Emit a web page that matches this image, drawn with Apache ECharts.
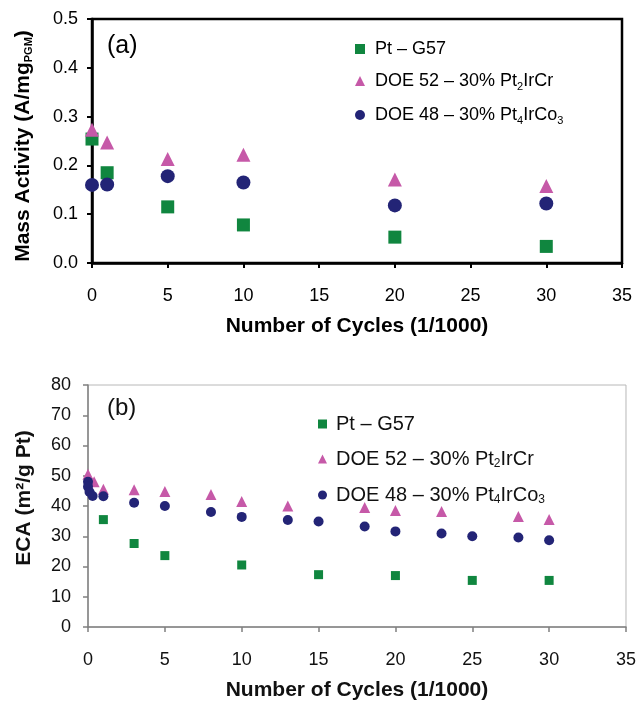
<!DOCTYPE html>
<html><head><meta charset="utf-8">
<script src="https://cdn.jsdelivr.net/npm/echarts@6/dist/echarts.min.js"></script>
<style>html,body{margin:0;padding:0;background:#fff}#c{width:639px;height:702px}</style>
</head><body><div id="c"></div>
<script>
// ---- Panel (a): Mass activity ----
const cyclesA = [0, 1, 5, 10, 20, 30];
const ptG57A = [0.254, 0.185, 0.115, 0.078, 0.053, 0.034];
const doe52A = [0.273, 0.247, 0.213, 0.222, 0.171, 0.158];
const doe48A = [0.160, 0.161, 0.178, 0.165, 0.118, 0.122];
const xTicksA = [0, 5, 10, 15, 20, 25, 30, 35];
const yTicksA = [0.0, 0.1, 0.2, 0.3, 0.4, 0.5];

// ---- Panel (b): ECA ----
const ptG57Bx = [1, 3, 5, 10, 15, 20, 25, 30];
const ptG57By = [35.5, 27.6, 23.6, 20.5, 17.3, 17.0, 15.4, 15.4];
const doe52Bx = [0, 0.4, 1, 3, 5, 8, 10, 13, 18, 20, 23, 28, 30];
const doe52By = [50.5, 48, 45.5, 45.4, 44.8, 43.8, 41.5, 40, 39.5, 38.5, 38.2, 36.5, 35.5];
const doe48Bx = [0, 0, 0.1, 0.3, 1, 3, 5, 8, 10, 13, 15, 18, 20, 23, 25, 28, 30];
const doe48By = [48, 46.4, 44.6, 43.3, 43.2, 41.1, 40, 38, 36.4, 35.4, 34.9, 33.2, 31.6, 30.9, 30, 29.6, 28.7];
const xTicksB = [0, 5, 10, 15, 20, 25, 30, 35];
const yTicksB = [0, 10, 20, 30, 40, 50, 60, 70, 80];

const names = ['Pt – G57', 'DOE 52 – 30% Pt2IrCr', 'DOE 48 – 30% Pt4IrCo3'];
const GREEN = '#10863f', PINK = '#c659a8', NAVY = '#232476';
const NARROW = '"Liberation Sans Narrow", "Liberation Sans", Arial, sans-serif';
const SANS = '"Liberation Sans", Arial, sans-serif';

function zip(xs, ys) { return xs.map((x, i) => [x, ys[i]]); }
function legendFmt(n) {
  if (n === names[1]) return '{n|DOE 52 – 30% Pt}{s|2}{n|IrCr}';
  if (n === names[2]) return '{n|DOE 48 – 30% Pt}{s|4}{n|IrCo}{s|3}';
  return '{n|' + n + '}';
}

const chart = echarts.init(document.getElementById('c'), null, {renderer: 'canvas'});
const option = {
  animation: false,
  backgroundColor: '#fff',
  grid: [
    {left: 92, top: 19, width: 530, height: 244, show: true, borderColor: '#000', borderWidth: 2.5, backgroundColor: 'transparent'},
    {left: 88, top: 385, width: 539, height: 243, show: true, borderColor: '#b8b8b8', borderWidth: 1, backgroundColor: 'transparent'}
  ],
  xAxis: [
    {gridIndex: 0, type: 'value', min: xTicksA[0], max: xTicksA[xTicksA.length - 1], interval: 5,
     axisLine: {onZero: false, lineStyle: {color: '#000', width: 2.5}},
     axisTick: {inside: false, length: 5, lineStyle: {color: '#000', width: 2}},
     axisLabel: {color: '#000', fontFamily: NARROW, fontSize: 18, margin: 24},
     splitLine: {show: false},
     name: 'Number of Cycles (1/1000)', nameLocation: 'middle', nameGap: 53,
     nameTextStyle: {color: '#000', fontFamily: SANS, fontWeight: 'bold', fontSize: 21}},
    {gridIndex: 1, type: 'value', min: xTicksB[0], max: xTicksB[xTicksB.length - 1], interval: 5,
     axisLine: {onZero: false, lineStyle: {color: '#808080', width: 1.5}},
     axisTick: {inside: false, length: 5, lineStyle: {color: '#808080', width: 1.5}},
     axisLabel: {color: '#111', fontFamily: SANS, fontSize: 18, margin: 24},
     splitLine: {show: false},
     name: 'Number of Cycles (1/1000)', nameLocation: 'middle', nameGap: 53,
     nameTextStyle: {color: '#111', fontFamily: SANS, fontWeight: 'bold', fontSize: 21}}
  ],
  yAxis: [
    {gridIndex: 0, type: 'value', min: yTicksA[0], max: yTicksA[yTicksA.length - 1], interval: 0.1,
     axisLine: {onZero: false, lineStyle: {color: '#000', width: 2.5}},
     axisTick: {inside: false, length: 5, lineStyle: {color: '#000', width: 2}},
     axisLabel: {color: '#000', fontFamily: NARROW, fontSize: 18, margin: 14, formatter: v => v.toFixed(1)},
     splitLine: {show: false},
     name: 'Mass Activity (A/mg{s|PGM})', nameLocation: 'middle', nameGap: 58, nameRotate: 90,
     nameTextStyle: {color: '#000', fontFamily: SANS, fontWeight: 'bold', fontSize: 21, padding: [0, 10, 0, 0],
       rich: {s: {fontFamily: SANS, fontWeight: 'bold', fontSize: 11, verticalAlign: 'bottom', color: '#000'}}}},
    {gridIndex: 1, type: 'value', min: yTicksB[0], max: yTicksB[yTicksB.length - 1], interval: 10,
     axisLine: {onZero: false, lineStyle: {color: '#808080', width: 1.5}},
     axisTick: {inside: false, length: 5, lineStyle: {color: '#808080', width: 1.5}},
     axisLabel: {color: '#111', fontFamily: SANS, fontSize: 18, margin: 17},
     splitLine: {show: false},
     name: 'ECA (m²/g Pt)', nameLocation: 'middle', nameGap: 53, nameRotate: 90,
     nameTextStyle: {color: '#111', fontFamily: SANS, fontWeight: 'bold', fontSize: 21, padding: [0, 0, 0, 16]}}
  ],
  legend: [
    {orient: 'vertical', left: 350, top: 35, itemWidth: 10, itemHeight: 10, itemGap: 14,
     data: [{name: names[0], icon: 'rect'}, {name: names[1], icon: 'triangle'}, {name: names[2], icon: 'circle'}],
     formatter: legendFmt, selectedMode: false,
     textStyle: {color: '#000', padding: [0, 0, 0, 5],
       rich: {n: {fontFamily: NARROW, fontSize: 18, lineHeight: 22, color: '#000'},
              s: {fontFamily: NARROW, fontSize: 11, lineHeight: 11, verticalAlign: 'bottom', color: '#000'}}}},
    {orient: 'vertical', left: 313, top: 409, itemWidth: 9, itemHeight: 9, itemGap: 15,
     data: [{name: names[0], icon: 'rect'}, {name: names[1], icon: 'triangle'}, {name: names[2], icon: 'circle'}],
     formatter: legendFmt, selectedMode: false,
     textStyle: {color: '#111', padding: [0, 0, 0, 4],
       rich: {n: {fontFamily: SANS, fontSize: 20, lineHeight: 22, color: '#111'},
              s: {fontFamily: SANS, fontSize: 12, lineHeight: 12, verticalAlign: 'bottom', color: '#111'}}}}
  ],
  graphic: [
    {type: 'text', left: 107, top: 34, style: {text: '(a)', font: '25px ' + NARROW, fill: '#000'}},
    {type: 'text', left: 107, top: 396, style: {text: '(b)', font: '24px ' + SANS, fill: '#111'}}
  ],
  series: [
    {name: names[0], type: 'scatter', xAxisIndex: 0, yAxisIndex: 0, symbol: 'rect', symbolSize: 13,
     itemStyle: {color: GREEN, opacity: 1}, data: zip(cyclesA, ptG57A)},
    {name: names[1], type: 'scatter', xAxisIndex: 0, yAxisIndex: 0, symbol: 'triangle', symbolSize: 14,
     itemStyle: {color: PINK, opacity: 1}, data: zip(cyclesA, doe52A)},
    {name: names[2], type: 'scatter', xAxisIndex: 0, yAxisIndex: 0, symbol: 'circle', symbolSize: 14,
     itemStyle: {color: NAVY, opacity: 1}, data: zip(cyclesA, doe48A)},
    {name: names[0], type: 'scatter', xAxisIndex: 1, yAxisIndex: 1, symbol: 'rect', symbolSize: 9,
     itemStyle: {color: GREEN, opacity: 1}, data: zip(ptG57Bx, ptG57By)},
    {name: names[1], type: 'scatter', xAxisIndex: 1, yAxisIndex: 1, symbol: 'triangle', symbolSize: 11,
     itemStyle: {color: PINK, opacity: 1}, data: zip(doe52Bx, doe52By)},
    {name: names[2], type: 'scatter', xAxisIndex: 1, yAxisIndex: 1, symbol: 'circle', symbolSize: 10,
     itemStyle: {color: NAVY, opacity: 1}, data: zip(doe48Bx, doe48By)}
  ]
};
chart.setOption(option);
</script></body></html>
